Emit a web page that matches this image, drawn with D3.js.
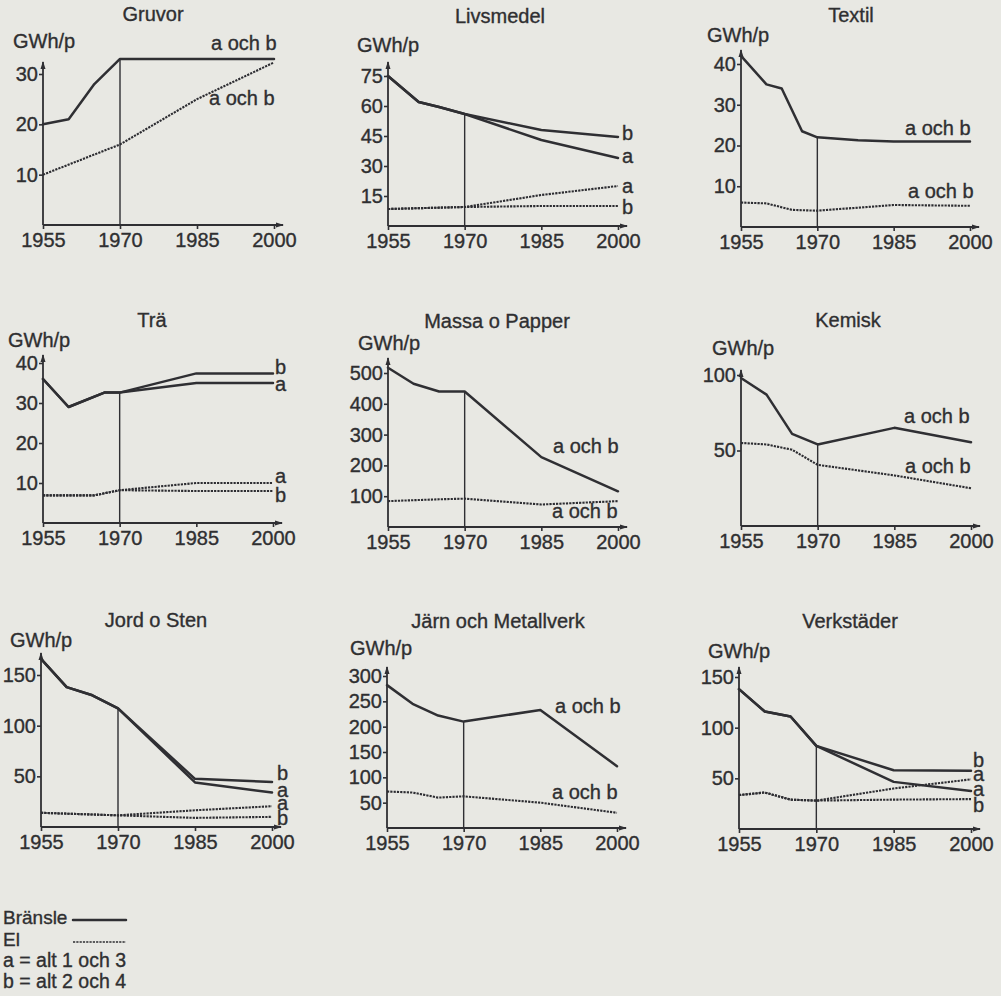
<!DOCTYPE html>
<html>
<head>
<meta charset="utf-8">
<script src="https://cdn.jsdelivr.net/npm/d3@7"></script>
<style>
  html, body { margin: 0; padding: 0; background: #e8e8e3; }
  svg { display: block; }
  text { font-family: "Liberation Sans", Arial, Helvetica, sans-serif; fill: #2f2f31; stroke: #2f2f31; stroke-width: 0.35px; }
</style>
</head>
<body>
<svg id="chart" width="1001" height="996"></svg>
<script>
// Year ticks shared by every panel
const yearTicks = [1955, 1970, 1985, 2000];

// Gruvor
const gruvorTicks = [10, 20, 30];
const gruvorFuel = [[1955, 20], [1960, 21], [1965, 28], [1970, 33], [1985, 33], [2000, 33]];
const gruvorEl = [[1955, 10], [1965, 14], [1970, 16], [1985, 25], [2000, 32.3]];

// Livsmedel
const livsmedelTicks = [15, 30, 45, 60, 75];
const livsmedelFuelA = [[1955, 75], [1961, 62], [1965, 59.5], [1970, 56], [1985, 43], [2000, 34]];
const livsmedelFuelB = [[1955, 75], [1961, 62], [1965, 59.5], [1970, 56], [1985, 48], [2000, 44.5]];
const livsmedelElA = [[1955, 8.5], [1970, 9.5], [1985, 15.5], [2000, 20]];
const livsmedelElB = [[1955, 8.5], [1970, 9.5], [1985, 10], [2000, 10]];

// Textil
const textilTicks = [10, 20, 30, 40];
const textilFuel = [[1955, 42], [1960, 35], [1963, 34], [1967, 23.5], [1970, 22], [1978, 21.3], [1985, 21], [2000, 21]];
const textilEl = [[1955, 6], [1960, 5.8], [1965, 4.2], [1970, 4], [1985, 5.4], [2000, 5.2]];

// Trä
const traTicks = [10, 20, 30, 40];
const traFuelA = [[1955, 36], [1960, 29], [1967, 32.6], [1970, 32.6], [1985, 35], [2000, 35]];
const traFuelB = [[1955, 36], [1960, 29], [1967, 32.6], [1970, 32.6], [1985, 37.4], [2000, 37.4]];
const traElA = [[1955, 6.9], [1965, 6.9], [1970, 8.2], [1985, 10], [2000, 10]];
const traElB = [[1955, 6.9], [1965, 6.9], [1970, 8.2], [1985, 8], [2000, 8]];

// Massa o Papper
const massaTicks = [100, 200, 300, 400, 500];
const massaFuel = [[1955, 517], [1960, 465], [1965, 440], [1970, 440], [1985, 227], [2000, 116]];
const massaEl = [[1955, 84], [1965, 90], [1970, 92], [1985, 73], [2000, 84]];

// Kemisk
const kemiskTicks = [50, 100];
const kemiskFuel = [[1955, 98], [1960, 87], [1965, 61], [1970, 54], [1985, 65], [2000, 55.5]];
const kemiskEl = [[1955, 55], [1960, 54], [1965, 50.5], [1970, 40.5], [1985, 33.5], [2000, 25]];

// Jord o Sten
const jordTicks = [50, 100, 150];
const jordFuelA = [[1955, 166], [1960, 138], [1965, 130], [1970, 117], [1985, 44], [2000, 34]];
const jordFuelB = [[1955, 166], [1960, 138], [1965, 130], [1970, 117], [1985, 47.5], [2000, 44.5]];
const jordElA = [[1955, 14], [1970, 11.5], [1985, 16.5], [2000, 20.5]];
const jordElB = [[1955, 14], [1970, 11.5], [1985, 9], [2000, 10]];

// Järn och Metallverk
const jarnTicks = [50, 100, 150, 200, 250, 300];
const jarnFuel = [[1955, 282], [1960, 245], [1965, 222], [1970, 210], [1985, 233], [2000, 122]];
const jarnEl = [[1955, 72], [1960, 70], [1965, 60], [1970, 62.5], [1985, 50], [2000, 30]];

// Verkstäder
const verkTicks = [50, 100, 150];
const verkFuelA = [[1955, 138], [1960, 116], [1965, 111], [1970, 82], [1985, 46.5], [2000, 37.5]];
const verkFuelB = [[1955, 138], [1960, 116], [1965, 111], [1970, 82], [1985, 58], [2000, 57.5]];
const verkElA = [[1955, 33.5], [1960, 36], [1965, 29], [1970, 28], [1985, 40], [2000, 49]];
const verkElB = [[1955, 33.5], [1960, 36], [1965, 29], [1970, 28], [1985, 29], [2000, 29.5]];

// Legend texts
const legendKeys = ["Bränsle", "El"];
const legendNotes = ["a = alt 1 och 3", "b = alt 2 och 4"];

const UNIT = "GWh/p";
const INK = "#2f2f33";
const FONT = 20;

// Panel frames: axis origin, plotted width, pixel of top tick, axis tip, title/unit/labels
const panels = [
  { title: "Gruvor", x0: 43, w: 231, y0: 225, yTop: 74, tip: 62, tx: 153, ty: 21, ux: 13, uy: 48,
    ticks: gruvorTicks, fuel: [gruvorFuel], el: [gruvorEl],
    labels: [["a och b", 211, 50], ["a och b", 209, 105]] },
  { title: "Livsmedel", x0: 388, w: 230, y0: 226, yTop: 76, tip: 62, tx: 500, ty: 23, ux: 357, uy: 52,
    ticks: livsmedelTicks, fuel: [livsmedelFuelA, livsmedelFuelB], el: [livsmedelElA, livsmedelElB],
    labels: [["b", 622, 140], ["a", 622, 163], ["a", 622, 193], ["b", 622, 214]] },
  { title: "Textil", x0: 741, w: 229, y0: 227, yTop: 64, tip: 50, tx: 851, ty: 22, ux: 707, uy: 42,
    ticks: textilTicks, fuel: [textilFuel], el: [textilEl],
    labels: [["a och b", 905, 135], ["a och b", 908, 198]] },
  { title: "Trä", x0: 43, w: 230, y0: 523, yTop: 363, tip: 355, tx: 152, ty: 327, ux: 8, uy: 347,
    ticks: traTicks, fuel: [traFuelA, traFuelB], el: [traElA, traElB],
    labels: [["b", 275, 374], ["a", 275, 391], ["a", 275, 483], ["b", 275, 502]] },
  { title: "Massa o Papper", x0: 388, w: 230, y0: 527, yTop: 373, tip: 358, tx: 497, ty: 328, ux: 358, uy: 350,
    ticks: massaTicks, fuel: [massaFuel], el: [massaEl],
    labels: [["a och b", 553, 453], ["a och b", 552, 518]] },
  { title: "Kemisk", x0: 741, w: 230, y0: 526, yTop: 375, tip: 370, tx: 848, ty: 327, ux: 712, uy: 355,
    ticks: kemiskTicks, fuel: [kemiskFuel], el: [kemiskEl],
    labels: [["a och b", 904, 423], ["a och b", 905, 473]] },
  { title: "Jord o Sten", x0: 41, w: 231, y0: 827, yTop: 675, tip: 653, tx: 156, ty: 627, ux: 10, uy: 647,
    ticks: jordTicks, fuel: [jordFuelA, jordFuelB], el: [jordElA, jordElB],
    labels: [["b", 277, 780], ["a", 277, 797], ["a", 277, 810], ["b", 277, 825]] },
  { title: "Järn och Metallverk", x0: 387, w: 230, y0: 828, yTop: 676, tip: 667, tx: 498, ty: 628, ux: 350, uy: 655,
    ticks: jarnTicks, fuel: [jarnFuel], el: [jarnEl],
    labels: [["a och b", 555, 713], ["a och b", 552, 799]] },
  { title: "Verkstäder", x0: 739, w: 232, y0: 829, yTop: 677, tip: 667, tx: 850, ty: 628, ux: 708, uy: 658,
    ticks: verkTicks, fuel: [verkFuelA, verkFuelB], el: [verkElA, verkElB],
    labels: [["b", 973, 767], ["a", 973, 781], ["a", 973, 796], ["b", 973, 812]] }
];

const svg = d3.select("#chart");

function styleSolid(sel) {
  return sel.attr("fill", "none").attr("stroke", INK).attr("stroke-width", 2.5)
    .attr("stroke-linejoin", "round").attr("stroke-linecap", "round");
}
function styleDotted(sel) {
  return sel.attr("fill", "none").attr("stroke", "#2c2c31").attr("stroke-width", 2.1)
    .attr("stroke-dasharray", "2.2,1.1");
}

function drawPanel(p) {
  const g = svg.append("g");
  const x = d3.scaleLinear().domain([1955, 2000]).range([p.x0, p.x0 + p.w]);
  const y = d3.scaleLinear().domain([0, p.ticks[p.ticks.length - 1]]).range([p.y0, p.yTop]);

  g.append("text").attr("x", p.tx).attr("y", p.ty).attr("text-anchor", "middle")
    .attr("font-size", FONT).text(p.title);
  g.append("text").attr("x", p.ux).attr("y", p.uy).attr("font-size", FONT).text(UNIT);

  // y axis
  const ya = g.append("g").attr("transform", `translate(${p.x0},0)`)
    .call(d3.axisLeft(y).tickValues(p.ticks).tickSize(4).tickPadding(1).tickFormat(d3.format("d")));
  ya.select(".domain").remove();
  ya.selectAll("line").attr("stroke", INK).attr("stroke-width", 1.6);
  ya.selectAll("text").attr("font-size", FONT).attr("font-family", null).attr("fill", null);

  // x axis
  const xa = g.append("g").attr("transform", `translate(0,${p.y0})`)
    .call(d3.axisBottom(x).tickValues(yearTicks).tickSize(4).tickPadding(3.5).tickFormat(d3.format("d")));
  xa.select(".domain").remove();
  xa.selectAll("line").attr("stroke", INK).attr("stroke-width", 1.6);
  xa.selectAll("text").attr("font-size", FONT).attr("font-family", null).attr("fill", null);

  // axis lines with arrow tips
  const xEnd = x(2000) + 9;
  g.append("line").attr("x1", p.x0).attr("x2", p.x0).attr("y1", p.y0).attr("y2", p.tip)
    .attr("stroke", INK).attr("stroke-width", 1.8);
  g.append("line").attr("x1", p.x0).attr("x2", xEnd).attr("y1", p.y0).attr("y2", p.y0)
    .attr("stroke", INK).attr("stroke-width", 1.8);
  g.append("path").attr("d", `M${p.x0 - 2.5},${p.tip + 7}L${p.x0},${p.tip - 1}L${p.x0 + 2.5},${p.tip + 7}Z`)
    .attr("fill", INK);
  g.append("path").attr("d", `M${xEnd - 7},${p.y0 - 2.5}L${xEnd + 1},${p.y0}L${xEnd - 7},${p.y0 + 2.5}Z`)
    .attr("fill", INK);

  // 1970 marker up to the fuel curve
  const v1970 = p.fuel[0].find(d => d[0] === 1970)[1];
  g.append("line").attr("x1", x(1970)).attr("x2", x(1970)).attr("y1", p.y0).attr("y2", y(v1970))
    .attr("stroke", INK).attr("stroke-width", 1.4);

  const line = d3.line().x(d => x(d[0])).y(d => y(d[1]));
  p.el.forEach(s => g.append("path").attr("d", line(s)).call(styleDotted));
  p.fuel.forEach(s => g.append("path").attr("d", line(s)).call(styleSolid));

  p.labels.forEach(([t, lx, ly]) =>
    g.append("text").attr("x", lx).attr("y", ly).attr("font-size", FONT).text(t));
}

panels.forEach(drawPanel);

// legend
const lg = svg.append("g");
const keyY = [924, 946];
legendKeys.forEach((t, i) => {
  lg.append("text").attr("x", 3).attr("y", keyY[i]).attr("font-size", 19).text(t);
  const l = lg.append("line").attr("x1", 73).attr("x2", 126).attr("y1", keyY[i] - 4).attr("y2", keyY[i] - 4);
  if (i === 0) l.call(styleSolid); else l.call(styleDotted).attr("stroke-width", 1.7);
});
const noteY = [967, 988];
legendNotes.forEach((t, i) => {
  lg.append("text").attr("x", 3).attr("y", noteY[i]).attr("font-size", 19.5).text(t);
});
</script>
</body>
</html>
